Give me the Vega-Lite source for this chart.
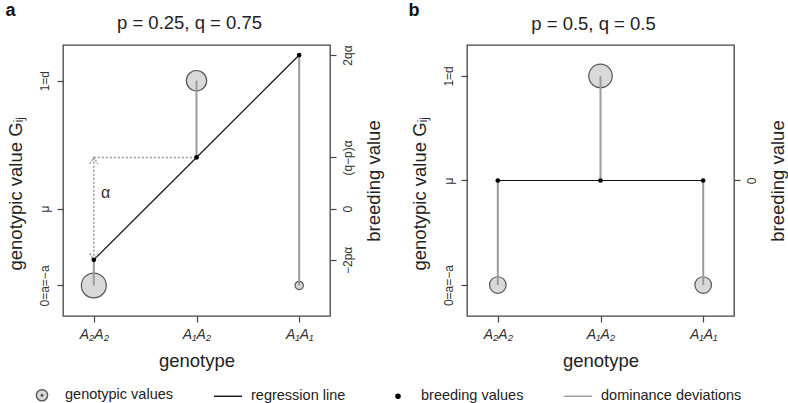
{
  "$schema": "https://vega.github.io/schema/vega-lite/v6.json",
  "padding": {"left": 4, "top": 1, "right": 4, "bottom": 2},
  "spacing": 23,
  "config": {
    "font": "Liberation Sans",
    "view": {"stroke": "#444", "strokeWidth": 1.3},
    "axis": {"grid": false, "domain": false, "tickColor": "#444", "tickSize": 6, "tickWidth": 1.2, "labelColor": "#333", "titleColor": "#222", "titleFontWeight": "normal", "titleFontSize": 18.5, "labelFontSize": 12, "labelPadding": 6},
    "title": {"fontSize": 18.5, "fontWeight": "normal", "color": "#222", "offset": -31, "baseline": "alphabetic", "dx": -7}
  },
  "datasets": {
    "genoA": [
      {"g": 0, "G": 0, "BV": 0.125, "freq": 0.5625},
      {"g": 1, "G": 1, "BV": 0.625, "freq": 0.375},
      {"g": 2, "G": 0, "BV": 1.125, "freq": 0.0625}
    ],
    "genoB": [
      {"g": 0, "G": 0, "BV": 0.5, "freq": 0.25},
      {"g": 1, "G": 1, "BV": 0.5, "freq": 0.5},
      {"g": 2, "G": 0, "BV": 0.5, "freq": 0.25}
    ],
    "arrowA": [
      {"g": 0, "g2": 0, "y": 0.125, "y2": 0.625},
      {"g": 0, "g2": 1, "y": 0.625, "y2": 0.625}
    ],
    "headsA": [
      {"g": 0, "y": 0.625, "dir": "up"},
      {"g": 0, "y": 0.125, "dir": "down"}
    ],
    "legendKeys": [
      {"g": 1, "y": 0.5, "series": "genotypic values"},
      {"g": 1, "y": 0.5, "series": "regression line"},
      {"g": 1, "y": 0.5, "series": "breeding values"},
      {"g": 1, "y": 0.5, "series": "dominance deviations"}
    ]
  },
  "hconcat": [
    {
      "width": 267,
      "height": 271,
      "title": "p = 0.25, q = 0.75",
      "data": {"name": "genoA"},
      "encoding": {
        "x": {"field": "g", "type": "quantitative", "scale": {"domain": [-0.3, 2.3], "nice": false, "zero": false},
          "axis": {"values": [0, 1, 2], "labelExpr": "['A₂A₂','A₁A₂','A₁A₁'][datum.value]", "labelFontStyle": "italic", "labelFontSize": 14, "labelPadding": 5, "title": "genotype", "titlePadding": 10}}
      },
      "layer": [
        {
          "mark": {"type": "point", "filled": true, "fill": "#d9d9d9", "stroke": "#555", "strokeWidth": 1.2, "opacity": 1},
          "encoding": {
            "y": {"field": "G", "type": "quantitative", "scale": {"domain": [-0.149, 1.174], "nice": false, "zero": false},
              "axis": {"orient": "left", "values": [0, 0.375, 1], "labelExpr": "datum.value == 0 ? '0=a=−a' : datum.value == 1 ? '1=d' : 'μ'", "labelAngle": -90, "labelAlign": "center", "labelBaseline": "bottom", "title": "genotypic value Gᵢⱼ", "titlePadding": 13, "titleY": 148}},
            "size": {"field": "freq", "type": "quantitative", "scale": {"type": "linear", "domain": [0, 1], "range": [0, 1100], "zero": true}, "legend": null}
          }
        },
        {
          "mark": {"type": "rule", "strokeWidth": 2, "color": "#9a9a9a"},
          "encoding": {
            "y": {"field": "BV", "type": "quantitative", "scale": {"domain": [-0.149, 1.174], "nice": false, "zero": false},
              "axis": {"orient": "right", "values": [0.125, 0.375, 0.625, 1.125], "labelExpr": "datum.value == 0.125 ? '−2pα' : datum.value == 0.375 ? '0' : datum.value == 0.625 ? '(q−p)α' : '2qα'", "labelAngle": -90, "labelAlign": "center", "labelBaseline": "top", "title": "breeding value", "titleAngle": -90, "titleBaseline": "top", "titlePadding": 11}},
            "y2": {"field": "G"}
          }
        },
        {
          "mark": {"type": "line", "strokeWidth": 1.2, "color": "#111111"},
          "encoding": {
            "y": {"field": "BV", "type": "quantitative", "scale": {"domain": [-0.149, 1.174], "nice": false, "zero": false}, "axis": null}
          }
        },
        {
          "data": {"name": "arrowA"},
          "mark": {"type": "rule", "color": "#999999", "strokeWidth": 1.5, "strokeDash": [2, 2]},
          "encoding": {
            "x2": {"field": "g2"},
            "y": {"field": "y", "type": "quantitative", "scale": {"domain": [-0.149, 1.174], "nice": false, "zero": false}, "axis": null},
            "y2": {"field": "y2"}
          }
        },
        {
          "data": {"name": "headsA"},
          "mark": {"type": "point", "filled": false, "color": "#999999", "strokeWidth": 1.5, "strokeDash": [2, 1.5], "size": 64, "opacity": 1},
          "encoding": {
            "y": {"field": "y", "type": "quantitative", "scale": {"domain": [-0.149, 1.174], "nice": false, "zero": false}, "axis": null},
            "shape": {"field": "dir", "type": "nominal", "scale": {"domain": ["up", "down"], "range": ["M-1,1.6L0,0L1,1.6", "M-1,-1.6L0,0L1,-1.6"]}, "legend": null}
          }
        },
        {
          "data": {"values": [{"g": 0.07, "y": 0.45, "t": "α"}]},
          "mark": {"type": "text", "align": "left", "baseline": "middle", "fontSize": 16, "color": "#333"},
          "encoding": {
            "y": {"field": "y", "type": "quantitative", "scale": {"domain": [-0.149, 1.174], "nice": false, "zero": false}, "axis": null},
            "text": {"field": "t"}
          }
        },
        {
          "mark": {"type": "point", "filled": true, "size": 22, "color": "#000000", "opacity": 1},
          "encoding": {
            "y": {"field": "BV", "type": "quantitative", "scale": {"domain": [-0.149, 1.174], "nice": false, "zero": false}, "axis": null}
          }
        },
        {
          "data": {"values": [{"g": -0.86, "y": 1.34, "t": "a"}]},
          "mark": {"type": "text", "align": "left", "baseline": "middle", "fontSize": 18, "fontWeight": "bold", "color": "#111"},
          "encoding": {
            "y": {"field": "y", "type": "quantitative", "scale": {"domain": [-0.149, 1.174], "nice": false, "zero": false}, "axis": null},
            "text": {"field": "t"}
          }
        },
        {
          "data": {"name": "legendKeys"},
          "mark": {"type": "point", "opacity": 0, "size": 784, "strokeWidth": 1.3},
          "encoding": {
            "y": {"field": "y", "type": "quantitative", "scale": {"domain": [-0.149, 1.174], "nice": false, "zero": false}, "axis": null},
            "fill": {"field": "series", "type": "nominal",
              "scale": {"domain": ["genotypic values", "regression line", "breeding values", "dominance deviations"], "range": ["#d9d9d9", "transparent", "#000000", "transparent"]},
              "legend": {"orient": "none", "legendX": -36, "legendY": 335, "direction": "horizontal", "title": null, "labelFontSize": 14.5, "labelColor": "#222", "columnPadding": 37, "symbolSize": 784, "labelOffset": 8, "symbolOpacity": 1, "symbolStrokeWidth": 1.4,
                "symbolType": {"expr": "datum.value == 'regression line' || datum.value == 'dominance deviations' ? 'M-1,0L1,0' : datum.value == 'breeding values' ? 'M-0.15,0A0.15,0.15 0 1,0 0.15,0A0.15,0.15 0 1,0 -0.15,0Z' : 'M-0.4,0A0.4,0.4 0 1,0 0.4,0A0.4,0.4 0 1,0 -0.4,0ZM-0.06,0A0.06,0.06 0 1,0 0.06,0A0.06,0.06 0 1,0 -0.06,0Z'"}}},
            "stroke": {"field": "series", "type": "nominal",
              "scale": {"domain": ["genotypic values", "regression line", "breeding values", "dominance deviations"], "range": ["#555555", "#111111", "#000000", "#9a9a9a"]},
              "legend": {"orient": "none", "legendX": -36, "legendY": 335, "direction": "horizontal", "title": null, "labelFontSize": 14.5, "labelColor": "#222", "columnPadding": 37, "symbolSize": 784, "labelOffset": 8, "symbolOpacity": 1, "symbolStrokeWidth": 1.4,
                "symbolType": {"expr": "datum.value == 'regression line' || datum.value == 'dominance deviations' ? 'M-1,0L1,0' : datum.value == 'breeding values' ? 'M-0.15,0A0.15,0.15 0 1,0 0.15,0A0.15,0.15 0 1,0 -0.15,0Z' : 'M-0.4,0A0.4,0.4 0 1,0 0.4,0A0.4,0.4 0 1,0 -0.4,0ZM-0.06,0A0.06,0.06 0 1,0 0.06,0A0.06,0.06 0 1,0 -0.06,0Z'"}}}
          }
        }
      ],
      "resolve": {"axis": {"y": "independent"}}
    },
    {
      "width": 267,
      "height": 271,
      "title": "p = 0.5, q = 0.5",
      "data": {"name": "genoB"},
      "encoding": {
        "x": {"field": "g", "type": "quantitative", "scale": {"domain": [-0.3, 2.3], "nice": false, "zero": false},
          "axis": {"values": [0, 1, 2], "labelExpr": "['A₂A₂','A₁A₂','A₁A₁'][datum.value]", "labelFontStyle": "italic", "labelFontSize": 14, "labelPadding": 5, "title": "genotype", "titlePadding": 10}}
      },
      "layer": [
        {
          "mark": {"type": "point", "filled": true, "fill": "#d9d9d9", "stroke": "#555", "strokeWidth": 1.2, "opacity": 1},
          "encoding": {
            "y": {"field": "G", "type": "quantitative", "scale": {"domain": [-0.148, 1.148], "nice": false, "zero": false},
              "axis": {"orient": "left", "values": [0, 0.5, 1], "labelExpr": "datum.value == 0 ? '0=a=−a' : datum.value == 1 ? '1=d' : 'μ'", "labelAngle": -90, "labelAlign": "center", "labelBaseline": "bottom", "title": "genotypic value Gᵢⱼ", "titlePadding": 13, "titleY": 148}},
            "size": {"field": "freq", "type": "quantitative", "scale": {"type": "linear", "domain": [0, 1], "range": [0, 1100], "zero": true}, "legend": null}
          }
        },
        {
          "mark": {"type": "rule", "strokeWidth": 2, "color": "#9a9a9a"},
          "encoding": {
            "y": {"field": "BV", "type": "quantitative", "scale": {"domain": [-0.148, 1.148], "nice": false, "zero": false},
              "axis": {"orient": "right", "values": [0.5], "labelExpr": "'0'", "labelAngle": -90, "labelAlign": "center", "labelBaseline": "top", "title": "breeding value", "titleAngle": -90, "titleBaseline": "top", "titlePadding": 11}},
            "y2": {"field": "G"}
          }
        },
        {
          "mark": {"type": "line", "strokeWidth": 1.2, "color": "#111111"},
          "encoding": {
            "y": {"field": "BV", "type": "quantitative", "scale": {"domain": [-0.148, 1.148], "nice": false, "zero": false}, "axis": null}
          }
        },
        {
          "mark": {"type": "point", "filled": true, "size": 22, "color": "#000000", "opacity": 1},
          "encoding": {
            "y": {"field": "BV", "type": "quantitative", "scale": {"domain": [-0.148, 1.148], "nice": false, "zero": false}, "axis": null}
          }
        },
        {
          "data": {"values": [{"g": -0.87, "y": 1.31, "t": "b"}]},
          "mark": {"type": "text", "align": "left", "baseline": "middle", "fontSize": 18, "fontWeight": "bold", "color": "#111"},
          "encoding": {
            "y": {"field": "y", "type": "quantitative", "scale": {"domain": [-0.148, 1.148], "nice": false, "zero": false}, "axis": null},
            "text": {"field": "t"}
          }
        }
      ],
      "resolve": {"axis": {"y": "independent"}}
    }
  ]
}
